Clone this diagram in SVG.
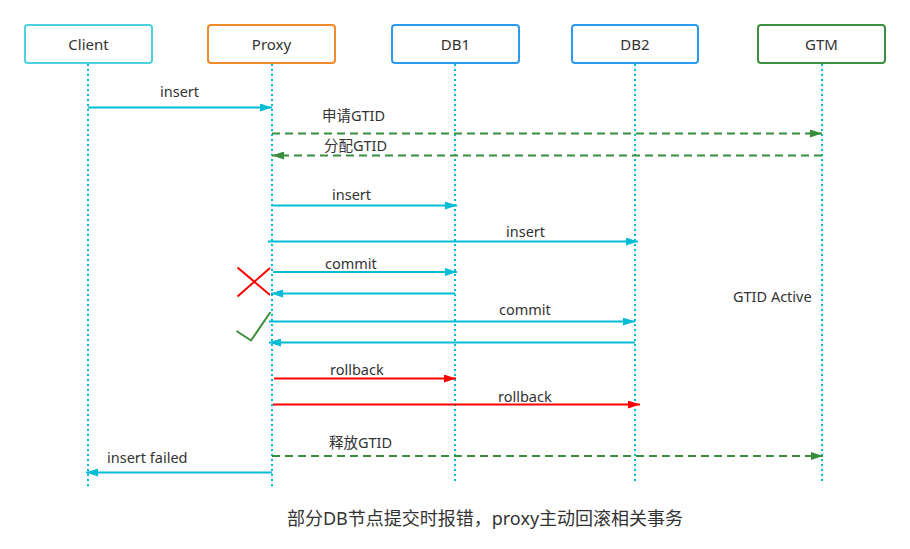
<svg xmlns="http://www.w3.org/2000/svg" width="910" height="549" viewBox="0 0 910 549">
<defs>
<style>
.box{fill:#fff;stroke-width:2}
.lbl{font-family:"Noto Sans","Open Sans","Noto Sans CJK SC",sans-serif;font-size:14.5px;fill:#333}
.nlbl{font-family:"Noto Sans","Open Sans","Noto Sans CJK SC",sans-serif;font-size:15px;fill:#333;text-anchor:middle}
.life{stroke:#00bcd4;stroke-width:2;stroke-dasharray:2 3;fill:none}
.cy{stroke:#00bcd4;stroke-width:2;fill:none}
.gr{stroke:#388e3c;stroke-width:2;stroke-dasharray:8 5;fill:none}
.rd{stroke:#ff0000;stroke-width:2;fill:none}
</style>
<marker id="aCy" viewBox="0 0 12 8" refX="12" refY="4" markerWidth="12" markerHeight="8" markerUnits="userSpaceOnUse" orient="auto"><path d="M0,0 L12,4 L0,8 z" fill="#00bcd4"/></marker>
<marker id="aGr" viewBox="0 0 12 8" refX="12" refY="4" markerWidth="12" markerHeight="8" markerUnits="userSpaceOnUse" orient="auto"><path d="M0,0 L12,4 L0,8 z" fill="#388e3c"/></marker>
<marker id="aRd" viewBox="0 0 12 8" refX="12" refY="4" markerWidth="12" markerHeight="8" markerUnits="userSpaceOnUse" orient="auto"><path d="M0,0 L12,4 L0,8 z" fill="#ff0000"/></marker>
</defs>
<rect width="910" height="549" fill="#fff"/>
<g id="lifelines">
<line class="life" x1="88" y1="64" x2="88" y2="486"/>
<line class="life" x1="272" y1="64" x2="272" y2="487"/>
<line class="life" x1="455" y1="64" x2="455" y2="482"/>
<line class="life" x1="635" y1="64" x2="635" y2="484"/>
<line class="life" x1="822" y1="64" x2="822" y2="482"/>
</g>
<g id="client"><rect class="box" x="25" y="25" width="127" height="38" rx="3" stroke="#4dd0e1"/><text class="nlbl" x="88.5" y="50">Client</text></g>
<g id="proxy"><rect class="box" x="208" y="25" width="127" height="38" rx="3" stroke="#f28b2a"/><text class="nlbl" x="271.5" y="50">Proxy</text></g>
<g id="db1"><rect class="box" x="392" y="25" width="127" height="38" rx="3" stroke="#2d9cf0"/><text class="nlbl" x="455.5" y="50">DB1</text></g>
<g id="db2"><rect class="box" x="572" y="25" width="126" height="38" rx="3" stroke="#2d9cf0"/><text class="nlbl" x="635" y="50">DB2</text></g>
<g id="gtm"><rect class="box" x="758" y="25" width="127" height="38" rx="3" stroke="#3b8f3f"/><text class="nlbl" x="821.5" y="50">GTM</text></g>
<g id="connectors">
<line class="cy" x1="88" y1="107.5" x2="272" y2="107.5" marker-end="url(#aCy)"/>
<line class="gr" x1="272" y1="133.5" x2="822" y2="133.5" marker-end="url(#aGr)"/>
<line class="gr" x1="822" y1="155.5" x2="272" y2="155.5" marker-end="url(#aGr)"/>
<line class="cy" x1="272" y1="205.5" x2="457" y2="205.5" marker-end="url(#aCy)"/>
<line class="cy" x1="268" y1="241.5" x2="638" y2="241.5" marker-end="url(#aCy)"/>
<line class="cy" x1="273" y1="272" x2="457" y2="272" marker-end="url(#aCy)"/>
<line class="cy" x1="455" y1="293.5" x2="271" y2="293.5" marker-end="url(#aCy)"/>
<line class="cy" x1="269" y1="321.5" x2="635" y2="321.5" marker-end="url(#aCy)"/>
<line class="cy" x1="635" y1="342.5" x2="269" y2="342.5" marker-end="url(#aCy)"/>
<line class="rd" x1="274" y1="378.5" x2="456" y2="378.5" marker-end="url(#aRd)"/>
<line class="rd" x1="273" y1="404.5" x2="640" y2="404.5" marker-end="url(#aRd)"/>
<line class="gr" x1="272" y1="456" x2="823" y2="456" marker-end="url(#aGr)"/>
<line class="cy" x1="272" y1="472.5" x2="86" y2="472.5" marker-end="url(#aCy)"/>
</g>
<g id="labels">
<text class="lbl" x="160" y="97">insert</text>
<text class="lbl" x="322" y="121">申请GTID</text>
<text class="lbl" x="324" y="151">分配GTID</text>
<text class="lbl" x="332" y="200">insert</text>
<text class="lbl" x="506" y="237">insert</text>
<text class="lbl" x="325" y="269">commit</text>
<text class="lbl" x="499" y="315">commit</text>
<text class="lbl" x="330" y="375">rollback</text>
<text class="lbl" x="498" y="402">rollback</text>
<text class="lbl" x="329" y="448">释放GTID</text>
<text class="lbl" x="107" y="463">insert failed</text>
<text class="lbl" x="733" y="302">GTID Active</text>
</g>
<g id="marks">
<path d="M237.5,267.5 L270,295 M237.5,296.5 L270,268" stroke="#ff0000" stroke-width="2" fill="none"/>
<path d="M236.5,331 L251,340.5 L270.5,312" stroke="#3b8f3f" stroke-width="2" fill="none"/>
</g>
<text x="485" y="525" text-anchor="middle" style="font-family:'Noto Sans','Noto Sans CJK SC',sans-serif;font-size:18px;fill:#333">部分DB节点提交时报错，proxy主动回滚相关事务</text>
</svg>
